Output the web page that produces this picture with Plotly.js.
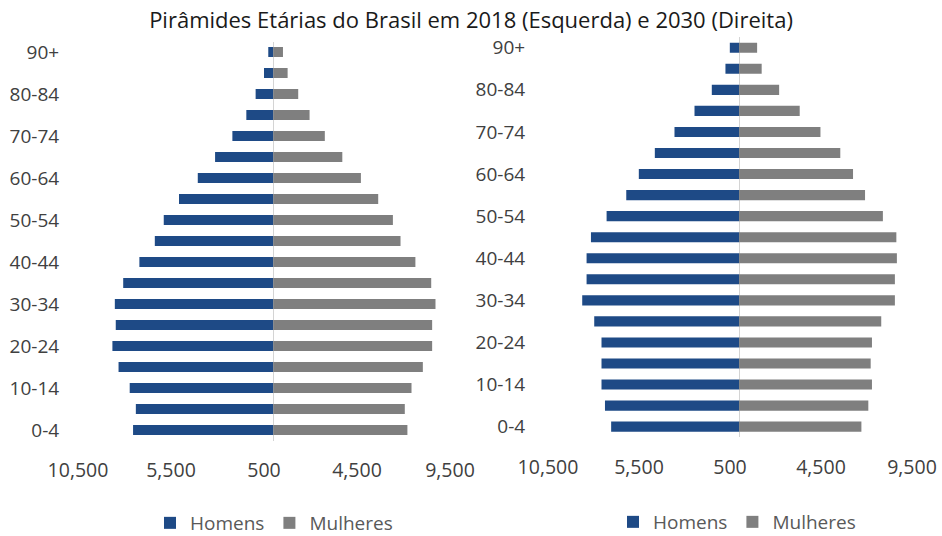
<!DOCTYPE html>
<html><head><meta charset="utf-8">
<script src="https://cdn.plot.ly/plotly-3.0.1.min.js"></script>
<style>html,body{margin:0;padding:0;background:#fff}#chart{width:942px;height:536px}</style>
</head><body><div id="chart"></div>
<script>
// Age groups, bottom to top
const ageGroups = ["0-4","5-9","10-14","15-19","20-24","25-29","30-34","35-39","40-44","45-49","50-54","55-59","60-64","65-69","70-74","75-79","80-84","85-89","90+"];
// Population (thousands), bottom to top
const men2018   = [7540, 7390, 7720, 8320, 8650, 8470, 8520, 8070, 7200, 6370, 5890, 5070, 4060, 3130, 2200, 1450, 950, 500, 270];
const women2018 = [7210, 7070, 7430, 8040, 8540, 8540, 8720, 8490, 7640, 6840, 6430, 5640, 4710, 3710, 2770, 1950, 1340, 770, 520];
const men2030   = [7030, 7370, 7560, 7560, 7560, 7960, 8620, 8380, 8380, 8140, 7280, 6200, 5510, 4630, 3550, 2450, 1500, 750, 510];
const women2030 = [6720, 7100, 7300, 7230, 7300, 7810, 8560, 8560, 8670, 8640, 7900, 6920, 6260, 5560, 4470, 3330, 2200, 1240, 990];
const xTickVals = [-10500, -5500, -500, 4500, 9500];
const xTickText = ["10,500", "5,500", "500", "4,500", "9,500"];
const yTickVals = ageGroups.filter((_, i) => i % 2 === 0);
const seriesNames = ["Homens", "Mulheres"];

const navy = "#1e4a86", gray = "#7f7f7f";
const FONT = "Open Sans, Segoe UI, sans-serif";
const neg = a => a.map(v => -v);

const traces = [
  {type:"bar", orientation:"h", y:ageGroups, x:neg(men2018), name:seriesNames[0], marker:{color:navy}, xaxis:"x", yaxis:"y", legend:"legend"},
  {type:"bar", orientation:"h", y:ageGroups, x:women2018, name:seriesNames[1], marker:{color:gray}, xaxis:"x", yaxis:"y", legend:"legend"},
  {type:"bar", orientation:"h", y:ageGroups, x:neg(men2030), name:seriesNames[0], marker:{color:navy}, xaxis:"x2", yaxis:"y2", legend:"legend2"},
  {type:"bar", orientation:"h", y:ageGroups, x:women2030, name:seriesNames[1], marker:{color:gray}, xaxis:"x2", yaxis:"y2", legend:"legend2"}
];

const W = 942, H = 536;
const xaxisCommon = {
  range:[-10500, 9500], tickmode:"array", tickvals:xTickVals, ticktext:xTickText,
  showgrid:false, zeroline:true, zerolinecolor:"#d4d4d4", zerolinewidth:1,
  showline:false, ticks:"outside", tickcolor:"rgba(0,0,0,0)", automargin:false,
  tickfont:{family:FONT, size:19.5, color:"#404040"}, fixedrange:true
};
const yaxisCommon = {
  type:"category", categoryorder:"array", categoryarray:ageGroups, range:[-0.5, 18.5],
  tickmode:"array", tickvals:yTickVals, showgrid:false, zeroline:false, showline:false,
  ticks:"outside", tickcolor:"rgba(0,0,0,0)", automargin:false,
  tickfont:{family:FONT, size:19, color:"#404040"}, fixedrange:true
};

const layout = {
  width:W, height:H, margin:{l:0, r:0, t:0, b:0, autoexpand:false},
  paper_bgcolor:"#fff", plot_bgcolor:"#fff",
  barmode:"relative", bargap:0.52,
  title:{text:"Pirâmides Etárias do Brasil em 2018 (Esquerda) e 2030 (Direita)",
         x:471/W, xanchor:"center", y:1-20/H, yanchor:"middle",
         font:{family:FONT, size:22, color:"#1a1a1a"}},
  xaxis:Object.assign({}, xaxisCommon, {domain:[78/W, 450/W], anchor:"y", ticklen:12}),
  yaxis:Object.assign({}, yaxisCommon, {domain:[1-440.5/H, 1-41.5/H], anchor:"x", ticklen:14}),
  xaxis2:Object.assign({}, xaxisCommon, {domain:[548/W, 912/W], anchor:"y2", ticklen:12}),
  yaxis2:Object.assign({}, yaxisCommon, {domain:[1-437.2/H, 1-37.2/H], anchor:"x2", ticklen:18}),
  legend:{orientation:"h", x:150/W, xanchor:"left", y:-6/H, yanchor:"bottom",
          font:{family:FONT, size:19, color:"#595959"}, bgcolor:"rgba(0,0,0,0)"},
  legend2:{orientation:"h", x:613/W, xanchor:"left", y:-5/H, yanchor:"bottom",
          font:{family:FONT, size:19, color:"#595959"}, bgcolor:"rgba(0,0,0,0)"},
  showlegend:true
};

Plotly.newPlot("chart", traces, layout, {displayModeBar:false, staticPlot:true});
</script>
</body></html>
